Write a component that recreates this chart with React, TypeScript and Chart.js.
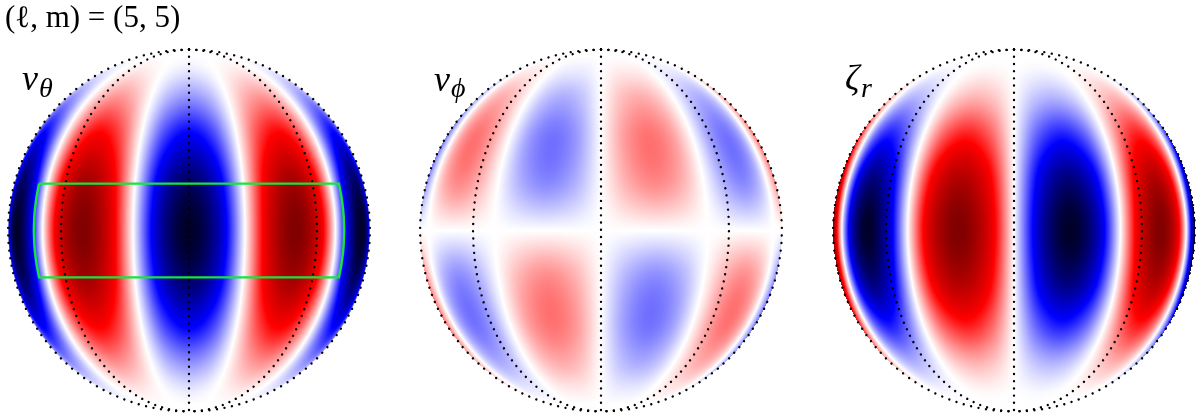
import React, { useEffect, useRef } from "react";
import { Chart, registerables } from "chart.js";

Chart.register(...registerables);

// Longitude columns and latitude rows of the three maps (degrees)
const lonColumns = [-90, -81, -72, -63, -54, -45, -36, -27, -18, -9, 0, 9, 18, 27, 36, 45, 54, 63, 72, 81, 90];
const latRows = [90, 75, 60, 45, 30, 15, 0, -15, -30, -45, -60, -75, -90];

const vTheta = [
  [0,0,0,0,0,0,0,0,0,0,0,0,0,0,0,0,0,0,0,0,0],
  [0,0,0,0,0,0,0,0,0,0,0,0,0,0,0,0,0,0,0,0,0],
  [0,-.04,-.06,-.04,0,.04,.06,.04,0,-.04,-.06,-.04,0,.04,.06,.04,0,-.04,-.06,-.04,0],
  [0,-.18,-.25,-.18,0,.18,.25,.18,0,-.18,-.25,-.18,0,.18,.25,.18,0,-.18,-.25,-.18,0],
  [0,-.40,-.56,-.40,0,.40,.56,.40,0,-.40,-.56,-.40,0,.40,.56,.40,0,-.40,-.56,-.40,0],
  [0,-.62,-.87,-.62,0,.62,.87,.62,0,-.62,-.87,-.62,0,.62,.87,.62,0,-.62,-.87,-.62,0],
  [0,-.71,-1,-.71,0,.71,1,.71,0,-.71,-1,-.71,0,.71,1,.71,0,-.71,-1,-.71,0],
  [0,-.62,-.87,-.62,0,.62,.87,.62,0,-.62,-.87,-.62,0,.62,.87,.62,0,-.62,-.87,-.62,0],
  [0,-.40,-.56,-.40,0,.40,.56,.40,0,-.40,-.56,-.40,0,.40,.56,.40,0,-.40,-.56,-.40,0],
  [0,-.18,-.25,-.18,0,.18,.25,.18,0,-.18,-.25,-.18,0,.18,.25,.18,0,-.18,-.25,-.18,0],
  [0,-.04,-.06,-.04,0,.04,.06,.04,0,-.04,-.06,-.04,0,.04,.06,.04,0,-.04,-.06,-.04,0],
  [0,0,0,0,0,0,0,0,0,0,0,0,0,0,0,0,0,0,0,0,0],
  [0,0,0,0,0,0,0,0,0,0,0,0,0,0,0,0,0,0,0,0,0],
];

const vPhi = [
  [0,0,0,0,0,0,0,0,0,0,0,0,0,0,0,0,0,0,0,0,0],
  [0,0,0,0,0,0,0,0,0,0,0,0,0,0,0,0,0,0,0,0,0],
  [-.05,-.04,0,.04,.05,.04,0,-.04,-.05,-.04,0,.04,.05,.04,0,-.04,-.05,-.04,0,.04,.05],
  [-.18,-.13,0,.13,.18,.13,0,-.13,-.18,-.13,0,.13,.18,.13,0,-.13,-.18,-.13,0,.13,.18],
  [-.28,-.20,0,.20,.28,.20,0,-.20,-.28,-.20,0,.20,.28,.20,0,-.20,-.28,-.20,0,.20,.28],
  [-.23,-.16,0,.16,.23,.16,0,-.16,-.23,-.16,0,.16,.23,.16,0,-.16,-.23,-.16,0,.16,.23],
  [0,0,0,0,0,0,0,0,0,0,0,0,0,0,0,0,0,0,0,0,0],
  [.23,.16,0,-.16,-.23,-.16,0,.16,.23,.16,0,-.16,-.23,-.16,0,.16,.23,.16,0,-.16,-.23],
  [.28,.20,0,-.20,-.28,-.20,0,.20,.28,.20,0,-.20,-.28,-.20,0,.20,.28,.20,0,-.20,-.28],
  [.18,.13,0,-.13,-.18,-.13,0,.13,.18,.13,0,-.13,-.18,-.13,0,.13,.18,.13,0,-.13,-.18],
  [.05,.04,0,-.04,-.05,-.04,0,.04,.05,.04,0,-.04,-.05,-.04,0,.04,.05,.04,0,-.04,-.05],
  [0,0,0,0,0,0,0,0,0,0,0,0,0,0,0,0,0,0,0,0,0],
  [0,0,0,0,0,0,0,0,0,0,0,0,0,0,0,0,0,0,0,0,0],
];

const zetaR = [
  [0,0,0,0,0,0,0,0,0,0,0,0,0,0,0,0,0,0,0,0,0],
  [0,0,0,0,0,0,0,0,0,0,0,0,0,0,0,0,0,0,0,0,0],
  [.03,.02,0,-.02,-.03,-.02,0,.02,.03,.02,0,-.02,-.03,-.02,0,.02,.03,.02,0,-.02,-.03],
  [.18,.13,0,-.13,-.18,-.13,0,.13,.18,.13,0,-.13,-.18,-.13,0,.13,.18,.13,0,-.13,-.18],
  [.49,.35,0,-.35,-.49,-.35,0,.35,.49,.35,0,-.35,-.49,-.35,0,.35,.49,.35,0,-.35,-.49],
  [.84,.60,0,-.60,-.84,-.60,0,.60,.84,.60,0,-.60,-.84,-.60,0,.60,.84,.60,0,-.60,-.84],
  [1,.71,0,-.71,-1,-.71,0,.71,1,.71,0,-.71,-1,-.71,0,.71,1,.71,0,-.71,-1],
  [.84,.60,0,-.60,-.84,-.60,0,.60,.84,.60,0,-.60,-.84,-.60,0,.60,.84,.60,0,-.60,-.84],
  [.49,.35,0,-.35,-.49,-.35,0,.35,.49,.35,0,-.35,-.49,-.35,0,.35,.49,.35,0,-.35,-.49],
  [.18,.13,0,-.13,-.18,-.13,0,.13,.18,.13,0,-.13,-.18,-.13,0,.13,.18,.13,0,-.13,-.18],
  [.03,.02,0,-.02,-.03,-.02,0,.02,.03,.02,0,-.02,-.03,-.02,0,.02,.03,.02,0,-.02,-.03],
  [0,0,0,0,0,0,0,0,0,0,0,0,0,0,0,0,0,0,0,0,0],
  [0,0,0,0,0,0,0,0,0,0,0,0,0,0,0,0,0,0,0,0,0],
];

// Graticule and box, in degrees
const graticuleLons = [-90, -45, 0, 45, 90];
const graticuleLats = [90,85,80,75,70,65,60,55,50,45,40,35,30,25,20,15,10,5,0,-5,-10,-15,-20,-25,-30,-35,-40,-45,-50,-55,-60,-65,-70,-75,-80,-85,-90];
const boxLons = [-59, 59, 59, 59, 59, 59, 59, 59, 59, 59, -59, -59, -59, -59, -59, -59, -59, -59, -59];
const boxLats = [15, 15, 11, 7, 4, 0, -4, -7, -11, -15, -15, -11, -7, -4, 0, 4, 7, 11, 15];

const titleText = "(\u2113, m) = (5, 5)";
const mapNames = ["v", "v", "\u03B6"];
const mapSubscripts = ["\u03B8", "\u03D5", "r"];

// Layout of the figure, in the units of the x and y scales
const DISC_X = [189, 601, 1014];
const DISC_Y = 230.5;
const DISC_R = 181;

const FIELDS = [vTheta, vPhi, zetaR];
const STOPS: [number, number, number, number][] = [
  [-1, 0, 0, 40],
  [-0.5, 0, 0, 255],
  [0, 255, 255, 255],
  [0.5, 255, 0, 0],
  [1, 128, 0, 0],
];

function colour(v: number): [number, number, number] {
  const t = Math.max(-1, Math.min(1, v));
  for (let k = 0; k < STOPS.length - 1; k++) {
    const a = STOPS[k];
    const b = STOPS[k + 1];
    if (t <= b[0]) {
      const f = (t - a[0]) / (b[0] - a[0]);
      return [a[1] + (b[1] - a[1]) * f, a[2] + (b[2] - a[2]) * f, a[3] + (b[3] - a[3]) * f];
    }
  }
  return [128, 0, 0];
}

function project(disc: number, lon: number, lat: number) {
  const la = (lat * Math.PI) / 180;
  const lo = (lon * Math.PI) / 180;
  return {
    x: DISC_X[disc] + DISC_R * Math.cos(la) * Math.sin(lo),
    y: DISC_Y - DISC_R * Math.sin(la),
  };
}

function cubic(p0: number, p1: number, p2: number, p3: number, t: number) {
  return (
    0.5 *
    (2 * p1 +
      (p2 - p0) * t +
      (2 * p0 - 5 * p1 + 4 * p2 - p3) * t * t +
      (3 * p1 - p0 - 3 * p2 + p3) * t * t * t)
  );
}

function sample(grid: number[][], lon: number, lat: number) {
  const nx = lonColumns.length;
  const ny = latRows.length;
  const fx = ((lon - lonColumns[0]) / (lonColumns[nx - 1] - lonColumns[0])) * (nx - 1);
  const fy = ((lat - latRows[0]) / (latRows[ny - 1] - latRows[0])) * (ny - 1);
  const ix = Math.min(nx - 2, Math.max(0, Math.floor(fx)));
  const iy = Math.min(ny - 2, Math.max(0, Math.floor(fy)));
  const cx = (i: number) => Math.max(0, Math.min(nx - 1, i));
  const cy = (j: number) => Math.max(0, Math.min(ny - 1, j));
  const rows = [-1, 0, 1, 2].map((d) => {
    const r = grid[cy(iy + d)];
    return cubic(r[cx(ix - 1)], r[cx(ix)], r[cx(ix + 1)], r[cx(ix + 2)], fx - ix);
  });
  return cubic(rows[0], rows[1], rows[2], rows[3], fy - iy);
}

const heatPlugin = {
  id: "sphereHeat",
  beforeDatasetsDraw(chart: any) {
    const { ctx, scales } = chart;
    chart.data.datasets.forEach((ds: any) => {
      if (ds.fieldIndex === undefined) return;
      const disc = ds.fieldIndex;
      const grid = FIELDS[disc];
      const px0 = scales.x.getPixelForValue(DISC_X[disc]);
      const py0 = scales.y.getPixelForValue(DISC_Y);
      const pr = scales.x.getPixelForValue(DISC_X[disc] + DISC_R) - px0;
      const left = Math.floor(px0 - pr);
      const top = Math.floor(py0 - pr);
      const size = Math.ceil(2 * pr) + 2;
      const off = document.createElement("canvas");
      off.width = size;
      off.height = size;
      const octx = off.getContext("2d")!;
      const img = octx.createImageData(size, size);
      for (let j = 0; j < size; j++) {
        for (let i = 0; i < size; i++) {
          const u = (left + i + 0.5 - px0) / pr;
          const w = (py0 - (top + j + 0.5)) / pr;
          if (u * u + w * w > 1) continue;
          const lat = Math.asin(w);
          const cl = Math.cos(lat);
          const lon = Math.asin(Math.max(-1, Math.min(1, u / Math.max(cl, 1e-6))));
          const v = sample(grid, (lon * 180) / Math.PI, (lat * 180) / Math.PI);
          const c = colour(v);
          const o = (j * size + i) * 4;
          img.data[o] = c[0];
          img.data[o + 1] = c[1];
          img.data[o + 2] = c[2];
          img.data[o + 3] = 255;
        }
      }
      octx.putImageData(img, 0, 0);
      ctx.drawImage(off, left, top);
    });
  },
};

const textPlugin = {
  id: "figureText",
  afterDatasetsDraw(chart: any) {
    const { ctx, scales } = chart;
    const put = (s: string, x: number, y: number, font: string) => {
      ctx.font = font;
      ctx.fillText(s, scales.x.getPixelForValue(x), scales.y.getPixelForValue(y));
    };
    ctx.save();
    ctx.fillStyle = "#000";
    ctx.textAlign = "left";
    ctx.textBaseline = "alphabetic";
    put(titleText, 5, 27, '31px "Liberation Serif"');
    const big = 'italic 36px "Liberation Serif"';
    const small = 'italic 28px "Liberation Serif"';
    put(mapNames[0], 22, 90, big);
    put(mapSubscripts[0], 39, 97, small);
    put(mapNames[1], 434, 91, big);
    put(mapSubscripts[1], 451, 97, small);
    put(mapNames[2], 845, 90, big);
    put(mapSubscripts[2], 861, 97, small);
    ctx.restore();
  },
};

export default function App() {
  const ref = useRef<HTMLCanvasElement>(null);
  useEffect(() => {
    document.body.style.margin = "0";
    const datasets: any[] = [];
    // Green box (on top)
    datasets.push({
      label: "box",
      data: boxLons.map((lon, i) => project(0, lon, boxLats[i])),
      showLine: true,
      borderColor: "#14e63c",
      borderWidth: 2.4,
      pointRadius: 0,
      tension: 0,
      order: 0,
    });
    // Dotted graticule
    DISC_X.forEach((_, disc) => {
      graticuleLons.forEach((lon) => {
        datasets.push({
          label: "graticule",
          data: graticuleLats.map((lat) => project(disc, lon, lat)),
          showLine: true,
          borderColor: "#000",
          borderWidth: 2.4,
          borderDash: [0.01, Math.abs(lon) === 90 ? 7.6 : 7.2],
          borderCapStyle: "round",
          pointRadius: 0,
          tension: 0,
          order: 1,
        });
      });
    });
    // Maps: the nodes of each field go through the chart, and the plugin paints them
    FIELDS.forEach((grid, disc) => {
      const nodes: any[] = [];
      latRows.forEach((lat, j) =>
        lonColumns.forEach((lon, i) => nodes.push({ ...project(disc, lon, lat), v: grid[j][i] }))
      );
      datasets.push({ label: ["v_theta", "v_phi", "zeta_r"][disc], data: nodes, fieldIndex: disc, pointRadius: 0, showLine: false, order: 2 });
    });
    const chart = new Chart(ref.current!, {
      type: "scatter",
      data: { datasets },
      plugins: [heatPlugin, textPlugin],
      options: {
        animation: false,
        responsive: false,
        layout: { padding: 0 },
        plugins: { legend: { display: false }, tooltip: { enabled: false }, title: { display: false } },
        scales: {
          x: { type: "linear", min: 0, max: 1200, display: false },
          y: { type: "linear", min: 0, max: 417, reverse: true, display: false },
        },
      },
    } as any);
    return () => chart.destroy();
  }, []);
  return (
    <div style={{ position: "absolute", left: 0, top: 0, width: 1200, height: 417, background: "#fff" }}>
      <canvas ref={ref} width={1200} height={417} style={{ display: "block" }} />
    </div>
  );
}
